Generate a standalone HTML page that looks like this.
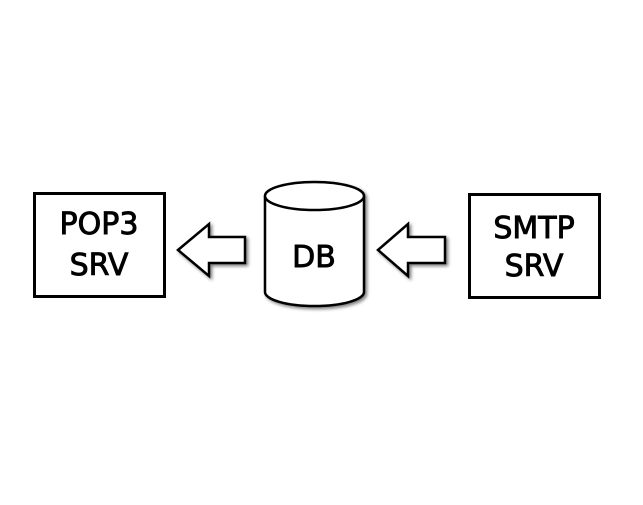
<!DOCTYPE html>
<html><head><style>
html,body{margin:0;padding:0;background:#fff;}
</style></head><body>
<svg width="643" height="500" viewBox="0 0 643 500" xmlns="http://www.w3.org/2000/svg">
<defs>
<filter id="sh" x="-20%" y="-20%" width="140%" height="140%">
<feGaussianBlur in="SourceAlpha" stdDeviation="1.5"/>
<feOffset dx="2" dy="2"/>
<feComponentTransfer><feFuncA type="linear" slope="0.5"/></feComponentTransfer>
<feMerge><feMergeNode/><feMergeNode in="SourceGraphic"/></feMerge>
</filter>
</defs>
<rect width="643" height="500" fill="#fff"/>
<rect x="34.5" y="193.5" width="130" height="103" fill="#fff" stroke="#000" stroke-width="3"/>
<rect x="469.5" y="194.5" width="130" height="103" fill="#fff" stroke="#000" stroke-width="3"/>
<g font-family="DejaVu Sans, Liberation Sans, sans-serif" font-size="30" text-anchor="middle" fill="#000" stroke="#000" stroke-width="0.9">
<text x="99" y="234">POP3</text>
<text x="99" y="275">SRV</text>
<text x="534" y="238">SMTP</text>
<text x="534" y="276">SRV</text>
</g>
<g filter="url(#sh)" fill="#fff" stroke="#000" stroke-width="2.5" stroke-linejoin="miter">
<path d="M265,196 L265,292 A49.5,14 0 0 0 364,292 L364,196"/>
<ellipse cx="314.5" cy="196" rx="49.5" ry="14"/>
<path d="M178,250 L209,224 L209,237 L245,237 L245,263 L209,263 L209,276 Z"/>
<path d="M378,250 L408,224 L408,237 L445,237 L445,263 L408,263 L408,276 Z"/>
</g>
<g font-family="DejaVu Sans, Liberation Sans, sans-serif" font-size="30" text-anchor="middle" fill="#000" stroke="#000" stroke-width="0.9">
<text x="314" y="267">DB</text>
</g>
</svg>
</body></html>
